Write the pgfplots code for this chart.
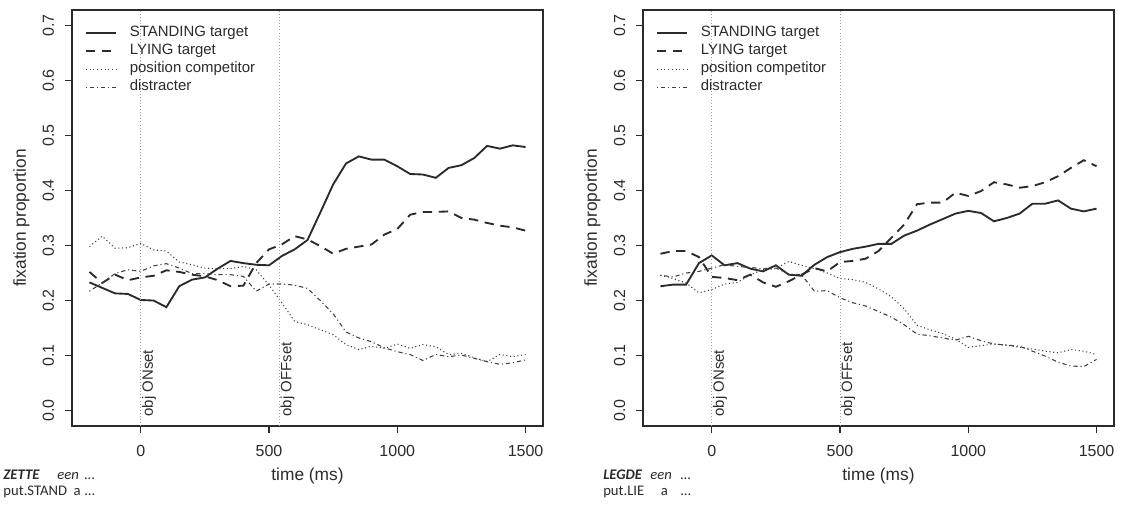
\documentclass[border=0pt]{standalone}
\usepackage{fontspec}
\setmainfont{Liberation Sans}
\newfontfamily\carlito{Carlito}
\usepackage{pgfplots}
\pgfplotsset{compat=1.18}
\usepackage{pgfplotstable}

\pgfplotstableread{
t stand lie comp dist
-200 0.233 0.252 0.298 0.217
-150 0.223 0.232 0.317 0.232
-100 0.213 0.247 0.295 0.249
-50 0.212 0.237 0.296 0.256
0 0.201 0.242 0.304 0.253
50 0.200 0.245 0.292 0.263
100 0.188 0.255 0.290 0.267
150 0.226 0.252 0.270 0.259
200 0.238 0.247 0.265 0.249
250 0.242 0.244 0.259 0.249
300 0.258 0.237 0.258 0.247
350 0.272 0.226 0.258 0.247
400 0.268 0.227 0.262 0.244
450 0.265 0.268 0.256 0.217
500 0.264 0.293 0.228 0.230
550 0.281 0.302 0.196 0.230
600 0.293 0.317 0.162 0.228
650 0.310 0.311 0.156 0.222
700 0.360 0.299 0.147 0.200
750 0.411 0.285 0.138 0.176
800 0.449 0.294 0.120 0.143
850 0.462 0.298 0.111 0.132
900 0.456 0.302 0.117 0.125
950 0.456 0.320 0.113 0.114
1000 0.444 0.330 0.121 0.107
1050 0.430 0.356 0.113 0.102
1100 0.429 0.361 0.120 0.091
1150 0.423 0.361 0.116 0.102
1200 0.441 0.362 0.102 0.098
1250 0.446 0.350 0.104 0.101
1300 0.459 0.347 0.096 0.095
1350 0.481 0.341 0.089 0.089
1400 0.476 0.336 0.102 0.084
1450 0.482 0.333 0.098 0.087
1500 0.479 0.327 0.102 0.092
}\leftdata

\pgfplotstableread{
t stand lie comp dist
-200 0.226 0.285 0.246 0.246
-150 0.229 0.290 0.240 0.243
-100 0.229 0.290 0.232 0.250
-50 0.268 0.279 0.214 0.253
0 0.282 0.243 0.220 0.259
50 0.264 0.241 0.230 0.265
100 0.268 0.237 0.233 0.262
150 0.258 0.247 0.247 0.260
200 0.253 0.233 0.256 0.258
250 0.264 0.225 0.258 0.259
300 0.247 0.235 0.271 0.248
350 0.245 0.247 0.264 0.247
400 0.265 0.259 0.258 0.217
450 0.279 0.253 0.250 0.218
500 0.288 0.270 0.240 0.205
550 0.294 0.272 0.238 0.196
600 0.298 0.276 0.233 0.190
650 0.303 0.290 0.221 0.180
700 0.303 0.314 0.207 0.170
750 0.318 0.338 0.185 0.156
800 0.327 0.375 0.155 0.139
850 0.338 0.378 0.147 0.136
900 0.348 0.378 0.140 0.132
950 0.358 0.396 0.130 0.128
1000 0.363 0.390 0.115 0.135
1050 0.359 0.399 0.118 0.127
1100 0.344 0.415 0.121 0.121
1150 0.350 0.411 0.119 0.119
1200 0.358 0.405 0.115 0.117
1250 0.376 0.408 0.112 0.108
1300 0.376 0.415 0.108 0.099
1350 0.382 0.426 0.105 0.088
1400 0.367 0.441 0.111 0.081
1450 0.362 0.455 0.108 0.080
1500 0.367 0.444 0.102 0.093
}\rightdata

\definecolor{ink}{HTML}{2B2B2B}
\definecolor{thinline}{HTML}{404040}
\definecolor{refl}{HTML}{9A9A9A}

\pgfplotsset{
  rstyle/.style={
    scale only axis, width=353.25pt, height=312pt,
    xmin=-268, xmax=1568, ymin=-0.028, ymax=0.728,
    xtick={0,500,1000,1500}, ytick={0,0.1,0.2,0.3,0.4,0.5,0.6,0.7},
    xtick pos=bottom, ytick pos=left,
    tick align=outside, major tick length=5.25pt,
    axis line style={line width=0.9pt, ink},
    every tick/.style={line width=0.9pt, ink},
    scaled ticks=false,
    /pgf/number format/assume math mode=true,
    /pgf/number format/1000 sep={},
    xticklabel style={font=\fontsize{12}{14}\selectfont, anchor=base, text=ink},
    xticklabel shift=17.25pt,
    yticklabel style={font=\fontsize{12}{14}\selectfont, rotate=90, anchor=base, text=ink,
      /pgf/number format/fixed, /pgf/number format/fixed zerofill, /pgf/number format/precision=1},
    yticklabel shift=8.25pt,
    every axis x label/.style={at={(axis description cs:0.5,-0.132)}, anchor=base, font=\fontsize{13}{15}\selectfont, text=ink},
    every axis y label/.style={at={(axis description cs:-0.0977,0.5)}, rotate=90, anchor=base, font=\fontsize{13}{15}\selectfont, text=ink},
    xlabel={time (ms)}, ylabel={fixation proportion},
    clip=false,
    legend style={at={(axis description cs:0.0276,0.961)}, anchor=north west, draw=none, fill=none,
      inner sep=0pt, outer sep=0pt, row sep=3pt, font=\fontsize{11.2}{13}\selectfont, text=ink,
      nodes={inner sep=0pt, text height=8pt, text depth=2.5pt},
      /tikz/every odd column/.append style={column sep=9.75pt}},
    legend cell align=left,
    legend image code/.code={\draw[##1] (0pt,0pt) -- (22.5pt,0pt);},
  },
  standing/.style={ink, line width=1.4pt, solid},
  lying/.style={ink, line width=1.4pt, dash pattern=on 7pt off 5pt},
  comp/.style={thinline, line width=0.8pt, dash pattern=on 0.8pt off 2pt},
  dist/.style={thinline, line width=0.8pt, dash pattern=on 0.8pt off 2.2pt on 3.2pt off 2.2pt},
  refline/.style={refl, line width=0.7pt, dash pattern=on 0.7pt off 1.6pt},
}

\begin{document}
\begin{tikzpicture}
\useasboundingbox (0pt,0pt) rectangle (842.25pt,381pt);

\begin{axis}[rstyle, at={(54pt,61.5pt)}, anchor=south west]
\addplot[standing] table[x=t,y=stand] {\leftdata};
\addlegendentry{STANDING target}
\addplot[lying] table[x=t,y=lie] {\leftdata};
\addlegendentry{LYING target}
\addplot[comp] table[x=t,y=comp] {\leftdata};
\addlegendentry{position competitor}
\addplot[dist] table[x=t,y=dist] {\leftdata};
\addlegendentry{distracter}
\addplot[refline, forget plot] coordinates {(0,-0.028) (0,0.728)};
\addplot[refline, forget plot] coordinates {(540,-0.028) (540,0.728)};
\node[rotate=90, anchor=north west, inner sep=0pt, font=\fontsize{11.2}{13}\selectfont, text=ink] at ([xshift=0.8pt]axis cs:0,-0.011) {obj ONset};
\node[rotate=90, anchor=north west, inner sep=0pt, font=\fontsize{11.2}{13}\selectfont, text=ink] at ([xshift=0.8pt]axis cs:540,-0.011) {obj OFFset};
\end{axis}

\begin{axis}[rstyle, at={(482.25pt,61.5pt)}, anchor=south west]
\addplot[standing] table[x=t,y=stand] {\rightdata};
\addlegendentry{STANDING target}
\addplot[lying] table[x=t,y=lie] {\rightdata};
\addlegendentry{LYING target}
\addplot[comp] table[x=t,y=comp] {\rightdata};
\addlegendentry{position competitor}
\addplot[dist] table[x=t,y=dist] {\rightdata};
\addlegendentry{distracter}
\addplot[refline, forget plot] coordinates {(0,-0.028) (0,0.728)};
\addplot[refline, forget plot] coordinates {(500,-0.028) (500,0.728)};
\node[rotate=90, anchor=north west, inner sep=0pt, font=\fontsize{11.2}{13}\selectfont, text=ink] at ([xshift=0.8pt]axis cs:0,-0.011) {obj ONset};
\node[rotate=90, anchor=north west, inner sep=0pt, font=\fontsize{11.2}{13}\selectfont, text=ink] at ([xshift=0.8pt]axis cs:500,-0.011) {obj OFFset};
\end{axis}

\begin{scope}[every node/.style={inner sep=0pt, anchor=base west, text=ink}, font=\carlito\fontsize{11}{13}\selectfont]
\node at (2.4pt,21.75pt) {\textbf{\textit{ZETTE}}};
\node at (42.75pt,21.75pt) {\textit{een}};
\node at (63pt,21.75pt) {\textit{...}};
\node at (2.4pt,9.75pt) {put.STAND};
\node at (55pt,9.75pt) {a};
\node at (63pt,9.75pt) {...};
\node at (452.25pt,21.75pt) {\textbf{\textit{LEGDE}}};
\node at (487.5pt,21.75pt) {\textit{een}};
\node at (510pt,21.75pt) {\textit{...}};
\node at (452.25pt,9.75pt) {put.LIE};
\node at (495.4pt,9.75pt) {a};
\node at (510pt,9.75pt) {...};
\end{scope}
\end{tikzpicture}
\end{document}
